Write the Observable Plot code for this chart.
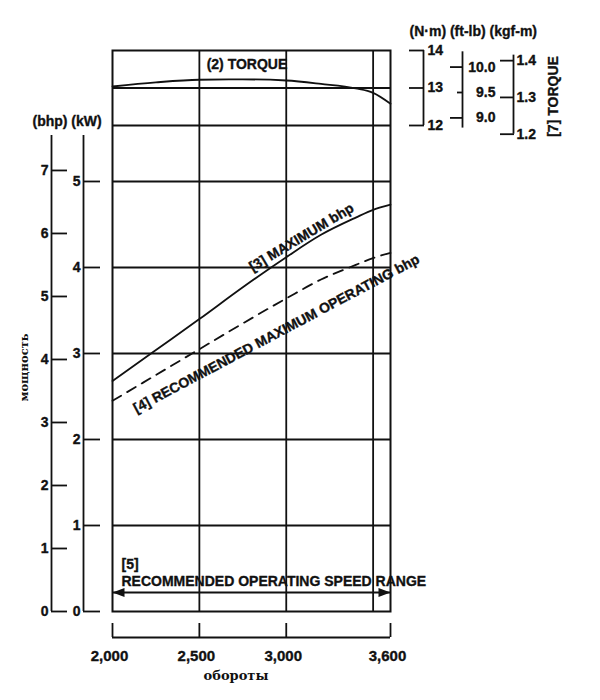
<!DOCTYPE html>
<html><head><meta charset="utf-8">
<script src="https://cdn.jsdelivr.net/npm/d3@7"></script>
<script src="https://cdn.jsdelivr.net/npm/@observablehq/plot@0.6"></script>
<style>html,body{margin:0;padding:0;background:#fff;overflow:hidden}</style>
</head><body><div id="chart"></div>
<script>
// ---- data ----
const rpm       = [2000, 2250, 2500, 2750, 3000, 3200, 3400, 3500, 3600];
const torqueNm  = [13.04, 13.15, 13.22, 13.23, 13.20, 13.11, 12.99, 12.87, 12.58];
const maxKW     = [2.68, 3.04, 3.40, 3.77, 4.12, 4.38, 4.58, 4.67, 4.73];
const recKW     = [2.45, 2.75, 3.05, 3.35, 3.64, 3.86, 4.03, 4.11, 4.17];
const speedRange = [2000, 3600];
const xTicks    = [2000, 2500, 3000, 3600];
const xGrid     = [2500, 3000, 3500];
const kwTicks   = [0, 1, 2, 3, 4, 5];
const bhpTicks  = [0, 1, 2, 3, 4, 5, 6, 7];
const nmTicks   = [12, 13, 14];
const ftlbTicks = [9.0, 9.5, 10.0];
const kgfTicks  = [1.2, 1.3, 1.4];

// ---- unit relations (kW is the base y unit) ----
const KW_PER_BHP = 0.7326;
const NM_BASE = 12, NM_BASE_KW = 5.651, KW_PER_NM = 0.436;
const nm = t => NM_BASE_KW + (t - NM_BASE) * KW_PER_NM;
const NM_PER_FTLB = 1.3558, NM_PER_KGFM = 9.80665;

const font = "'Liberation Sans', Arial, Helvetica, sans-serif";
const serif = "'DejaVu Serif', serif";
const ink = "#111";
const SW = 1.8;
const txt = {fontFamily: font, fontWeight: "bold", fontSize: 14, fill: ink, stroke: ink, strokeWidth: 0.35};
const ax = {label: null, fontFamily: font, fontWeight: "bold", fontSize: 14, strokeWidth: SW, textStroke: ink, textStrokeWidth: 0.35};

const torqueData = rpm.map((r, i) => ({rpm: r, v: nm(torqueNm[i])}));
const maxData = rpm.map((r, i) => ({rpm: r, v: maxKW[i]}));
const recData = rpm.map((r, i) => ({rpm: r, v: recKW[i]}));

const headRight = {draw(c) { c.moveTo(0, 0); c.lineTo(-12, -4.5); c.lineTo(-12, 4.5); c.closePath(); }};
const headLeft  = {draw(c) { c.moveTo(0, 0); c.lineTo(12, -4.5); c.lineTo(12, 4.5); c.closePath(); }};

const chart = Plot.plot({
  width: 600, height: 700,
  marginLeft: 112, marginRight: 210, marginTop: 50, marginBottom: 89,
  x: {domain: [2000, 3600], label: null},
  y: {domain: [0, nm(14)], label: null},
  style: {background: "#fff", color: ink, fontFamily: font},
  marks: [
    // grid and frame
    Plot.ruleX(xGrid, {stroke: ink, strokeWidth: SW}),
    Plot.ruleY(kwTicks.slice(1), {stroke: ink, strokeWidth: SW}),
    Plot.ruleY([12, 13].map(nm), {stroke: ink, strokeWidth: SW}),
    Plot.frame({stroke: ink, strokeWidth: 2}),

    // curves
    Plot.line(torqueData, {x: "rpm", y: "v", curve: "monotone-x", stroke: ink, strokeWidth: SW}),
    Plot.line(maxData, {x: "rpm", y: "v", curve: "monotone-x", stroke: ink, strokeWidth: SW}),
    Plot.line(recData, {x: "rpm", y: "v", curve: "monotone-x", stroke: ink, strokeWidth: SW, strokeDasharray: "10,7"}),

    // curve labels
    Plot.text(["(2) TORQUE"], {x: () => 2774, y: () => nm(13.51), lineAnchor: "bottom", ...txt}),
    Plot.text(["[3] MAXIMUM bhp"], {x: () => 3088, y: () => 4.35, rotate: -31, ...txt}),
    Plot.text(["[4] RECOMMENDED MAXIMUM OPERATING bhp"], {x: () => 2944, y: () => 3.23, rotate: -28, ...txt}),

    // speed range
    Plot.ruleY([0], {x1: () => speedRange[0], x2: () => speedRange[1], dy: -19, stroke: ink, strokeWidth: SW}),
    Plot.dot([speedRange[0]], {x: d => d, y: () => 0, dy: -19, symbol: headLeft, fill: ink, stroke: null}),
    Plot.dot([speedRange[1]], {x: d => d, y: () => 0, dy: -19, symbol: headRight, fill: ink, stroke: null}),
    Plot.text(["[5]\nRECOMMENDED OPERATING SPEED RANGE"], {x: () => speedRange[0], y: () => 0, dx: 9, dy: -26, textAnchor: "start", lineAnchor: "bottom", lineHeight: 1.15, ...txt}),

    // x axis bracket
    Plot.axisX({ticks: xTicks, anchor: "bottom", dy: 12, tickSize: 14, tickFormat: () => "", ...ax}),
    Plot.ruleY([0], {dy: 26, stroke: ink, strokeWidth: SW}),
    Plot.text(xTicks, {x: d => d, frameAnchor: "bottom", dy: 49, dx: -3, textAnchor: "middle", lineAnchor: "bottom", text: d => d3.format(",")(d), ...txt, fontSize: 15}),
    Plot.text(["обороты"], {frameAnchor: "bottom-left", dx: 123.5, dy: 68, textAnchor: "middle", lineAnchor: "bottom", fontFamily: serif, fontWeight: "bold", fontSize: 13, fill: ink}),

    // left power axes
    Plot.ruleX([2000], {dx: -61, y1: 0, y2: 5.535, stroke: ink, strokeWidth: SW}),
    Plot.axisY({ticks: bhpTicks.map(b => b * KW_PER_BHP), anchor: "left", dx: -45, tickSize: 16, tickPadding: 3,
      tickFormat: v => String(Math.round(v / KW_PER_BHP)), ...ax}),
    Plot.ruleX([2000], {dx: -29, y1: 0, y2: 5.535, stroke: ink, strokeWidth: SW}),
    Plot.axisY({ticks: kwTicks, anchor: "left", dx: -12, tickSize: 17, tickPadding: 3, tickFormat: d => String(d), ...ax}),
    Plot.text(["(bhp) (kW)"], {frameAnchor: "top-left", dx: -80, dy: 75, textAnchor: "start", lineAnchor: "bottom", ...txt}),
    Plot.text(["мощность"], {frameAnchor: "top-left", dx: -88.5, dy: 317, rotate: -90, textAnchor: "middle", lineAnchor: "middle", fontFamily: serif, fontWeight: "bold", fontSize: 11.5, fill: ink}),

    // right torque axes
    Plot.ruleX([3600], {dx: 33, y1: () => nm(12), y2: () => nm(14), stroke: ink, strokeWidth: SW}),
    Plot.axisY({ticks: nmTicks.map(nm), anchor: "right", dx: 18, tickSize: 15, tickPadding: 4,
      tickFormat: v => String(Math.round((v - NM_BASE_KW) / KW_PER_NM + NM_BASE)), ...ax}),
    Plot.ruleX([3600], {dx: 72, y1: () => nm(8.8 * NM_PER_FTLB), y2: () => nm(10.3 * NM_PER_FTLB), stroke: ink, strokeWidth: SW}),
    Plot.axisY({ticks: ftlbTicks.filter(t => t !== 9.5).map(t => nm(t * NM_PER_FTLB)), anchor: "right", dx: 59, tickSize: 13, tickPadding: 33, textAnchor: "end",
      tickFormat: v => (((v - NM_BASE_KW) / KW_PER_NM + NM_BASE) / NM_PER_FTLB).toFixed(1), ...ax}),
    Plot.axisY({ticks: ftlbTicks.filter(t => t === 9.5).map(t => nm(t * NM_PER_FTLB)), anchor: "right", dx: 66, tickSize: 6, tickPadding: 33, textAnchor: "end",
      tickFormat: v => (((v - NM_BASE_KW) / KW_PER_NM + NM_BASE) / NM_PER_FTLB).toFixed(1), ...ax}),
    Plot.ruleX([3600], {dx: 123, y1: () => nm(1.2 * NM_PER_KGFM), y2: () => nm(1.415 * NM_PER_KGFM), stroke: ink, strokeWidth: SW}),
    Plot.axisY({ticks: kgfTicks.map(t => nm(t * NM_PER_KGFM)), anchor: "right", dx: 109, tickSize: 14, tickPadding: 3,
      tickFormat: v => (((v - NM_BASE_KW) / KW_PER_NM + NM_BASE) / NM_PER_KGFM).toFixed(1), ...ax}),
    Plot.text(["(N·m) (ft-lb) (kgf-m)"], {frameAnchor: "top-right", dx: 19, dy: -14.5, textAnchor: "start", lineAnchor: "bottom", ...txt}),
    Plot.text(["[7] TORQUE"], {frameAnchor: "top-right", dx: 163, dy: 46, rotate: -90, textAnchor: "middle", lineAnchor: "middle", ...txt})
  ]
});
document.getElementById("chart").append(chart);
</script>
</body></html>
